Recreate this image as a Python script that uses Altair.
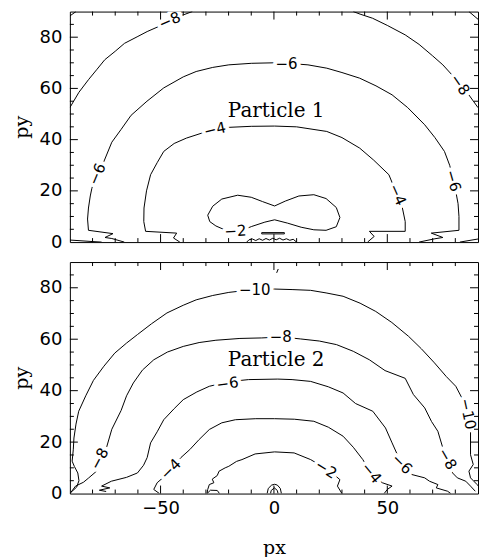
import altair as alt
import pandas as pd

# ---------------- axis / tick values ----------------
X_DOMAIN = [-90, 90]
Y_DOMAIN = [0, 90]
x_major = [-50, 0, 50]
x_minor = [-80, -70, -60, -40, -30, -20, -10, 10, 20, 30, 40, 60, 70, 80]
y_major = [20, 40, 60, 80]
y_minor = [5, 10, 15, 25, 30, 35, 45, 50, 55, 65, 70, 75, 85]
x_labels = [-50, 0, 50]
y_labels = [0, 20, 40, 60, 80]

# ---------------- Particle 1 contours (px, py) ----------------
p1_m8_left = [(-90, 52.5), (-86, 58.5), (-81.8, 63.4), (-78, 67.5), (-74.6, 71.2), (-70, 74.5),
              (-65.9, 77.6), (-60, 80.3), (-55.9, 82.2), (-50, 84.5), (-45.8, 86.5), (-40, 88.7), (-36, 90)]
p1_m8_right = [(35, 90), (38, 89), (43.5, 87.4), (50, 84.6), (57.9, 80.9), (64, 77.2), (70, 72.7),
               (74.5, 69.2), (78.5, 65.3), (81.6, 62), (85.3, 58.3), (90, 52.5)]
p1_m10_tl = [(-90, 88.3), (-87.3, 90)]
p1_m10_tr = [(86, 90), (90, 87)]
p1_edge_bl = [(-90, 0.8), (-80, 0.2), (-76, 0)]
p1_edge_br = [(82, 0), (90, 1.2)]
p1_m6 = [(-66, 0), (-71.5, 1.4), (-74.5, 1.8), (-71, 3.3), (-81.8, 4.6), (-82.2, 9), (-81.8, 13.3),
         (-81, 18), (-80.3, 21), (-78.2, 26.9), (-75.3, 30.8), (-71.5, 39), (-67.4, 44), (-63, 49.5),
         (-56, 55), (-48.6, 60.2), (-40, 64.5), (-34.3, 66.6), (-27, 68.2), (-19.9, 69.2), (-10, 69.8),
         (0, 70), (6, 69.8), (15, 69.2), (23.3, 67.9), (30, 66.2), (37.8, 64), (45, 61), (52.1, 57.5),
         (59, 52.5), (66.5, 45.8), (71, 40.8), (75.2, 35.4), (77.5, 30), (78.8, 25.6), (80.2, 19.8),
         (81.2, 15), (81.6, 10), (81.6, 4.6), (75, 4.0), (69.4, 3.5), (74.5, 1.8), (71, 1.3), (64, 0)]
p1_m4 = [(-41.5, 0), (-44.3, 1.6), (-42.9, 3.5), (-56.6, 4.2), (-57.4, 8), (-57.3, 13.3), (-56.2, 20),
         (-54.4, 26.3), (-51.5, 31), (-48.6, 35.4), (-44, 38.5), (-38.6, 40.6), (-32, 42.5), (-25.6, 43.9),
         (-19.9, 44.8), (-10, 45.2), (0.3, 45.3), (10, 45), (23.3, 43.2), (30, 40.8), (37.8, 36.7), (44, 32),
         (50.7, 26.3), (54.3, 18.5), (56.5, 14), (57.9, 8), (57.9, 4.2), (42.1, 4.2), (44.2, 2.2), (41.3, 0)]
p1_m2 = [(-29.2, 10.5), (-27, 14), (-23, 16.8), (-16, 18.3), (-10, 17.5), (-5, 15.8), (0.3, 14.1),
         (5, 16), (11, 18), (17.6, 18.5), (23, 17), (27.5, 13.5), (29.1, 9.6), (27.5, 6), (23, 4.6),
         (17.6, 4.8), (12, 5.8), (6, 7.4), (0.3, 8.7), (-4, 7.8), (-9.8, 6.1), (-13, 5), (-17, 4.2),
         (-22, 4.9), (-25.6, 6.3), (-28.3, 8), (-29.2, 10.5)]
p1_dash = [(-5.4, 3.7), (4.6, 3.7), (4.6, 3.2), (-5.4, 3.2), (-5.4, 3.7)]
p1_wiggle = [(-12, 0), (-11, 0.9), (-9.5, 1.2), (-8, 0.6), (-6.5, 1.3), (-5, 0.7), (-3.5, 1.4), (-2, 0.8),
             (-0.5, 1.5), (1, 0.9), (2.5, 1.5), (4, 0.8), (5.5, 1.3), (7, 0.7), (8.5, 1.1), (10, 0)]

# ---------------- Particle 2 contours (px, py) ----------------
p2_m10 = [(-89.5, 0.5), (-87, 2.5), (-86, 5), (-86.5, 8), (-88, 10.5), (-89, 12.6), (-88.5, 17),
          (-88.2, 21.6), (-87.3, 27), (-86.1, 32), (-83, 38), (-79.6, 44), (-75, 49.5), (-70.2, 54.6),
          (-65, 58.5), (-60.2, 61.8), (-54, 66), (-47.2, 70.2), (-40, 73.2), (-34.3, 75.3), (-27, 77),
          (-19.9, 78.2), (-10, 79.2), (0.3, 79.5), (8, 79.3), (16.2, 79), (23, 78), (30.5, 76.7), (38, 74),
          (44.9, 70.8), (52, 66.5), (59.4, 61.1), (65, 56.3), (70.8, 50.8), (76, 45.5), (80.2, 41.7),
          (83, 37), (85.3, 32.6), (86.5, 28), (86.7, 24.2), (86.7, 15.1), (87.9, 11.3), (86, 8.7),
          (86.7, 6.1), (89.6, 3.5), (90, 3)]
p2_m8 = [(-89.7, 0.3), (-87.5, 2.9), (-84, 4.4), (-81.8, 6), (-78.5, 8.5), (-76.7, 13.2), (-73.9, 17.7),
         (-71.5, 25), (-67.4, 32.3), (-65, 38), (-62, 43), (-58, 48), (-53, 52), (-47, 55), (-40, 57.2),
         (-33, 58.7), (-25.6, 59.6), (-15, 60.3), (-5.4, 60.5), (3.2, 60.9), (11.8, 60.1), (20, 59.3),
         (27.6, 57.9), (35, 55.3), (42.1, 52), (49, 47.8), (57.9, 44.8), (61.5, 38.5), (66.5, 33.3),
         (69.5, 28), (72.3, 24.2), (74.5, 17.7), (76.6, 13.2), (78.8, 8), (80.9, 6.1), (84.6, 4.8),
         (86.7, 2.9), (88.8, 0.9)]
p2_m6 = [(-74, 0.8), (-77, 1.3), (-72.4, 2.2), (-76, 2.9), (-71.7, 4.8), (-65, 6.3), (-60.2, 8),
         (-57.5, 11), (-55.9, 14), (-54.4, 19.7), (-51.5, 24), (-48.6, 28.7), (-44, 33), (-40, 36.5),
         (-34, 39.5), (-28.5, 41.7), (-19.9, 43.5), (-11.2, 44.3), (1.7, 44.5), (8, 44.3), (16.2, 43.6),
         (24, 41.5), (30.5, 39.1), (36, 35), (43.6, 32), (49.2, 25.5), (52.1, 19.7), (54.5, 15),
         (56.5, 11.3), (60.8, 7.4), (66.5, 6.1), (68.6, 4.8), (72.3, 3.5), (71.6, 2.2), (76.6, 0.9), (78, 0)]
p2_m4 = [(-50.5, 0), (-53, 1.6), (-51.5, 4.2), (-48.5, 6.5), (-45.8, 9.3), (-41, 14), (-37.1, 17.1),
         (-33, 21), (-28.5, 24.9), (-23, 27.5), (-17, 28.7), (-8, 29.1), (0.3, 29.1), (9, 28.9),
         (17.6, 28.1), (24, 25.8), (30.5, 22.3), (35, 18), (39.2, 13.2), (42.8, 8), (45, 6), (47.8, 4.2),
         (52.1, 2.9), (50, 1.6), (48.6, 0)]
p2_m2 = [(-29.5, 0), (-29.2, 1.6), (-28.5, 3.5), (-26.5, 4.2), (-27.2, 5.6), (-25, 7), (-24.2, 8.7),
         (-21.5, 10), (-19.9, 10.6), (-16.5, 12.5), (-14.1, 13.2), (-8.3, 15.4), (0.3, 16.2), (8.9, 15.8),
         (16.2, 13.2), (20, 11.2), (23.3, 9.3), (27, 7), (29.1, 5.4), (28, 2.9), (30, 0)]
p2_loop_l = [(-29.5, 0), (-28, 1.3), (-25, 1.2), (-24, 0)]
p2_arch_out = [(-3, 0), (-2.5, 2), (-1, 3.3), (0.3, 3.6), (1.5, 3.3), (2.8, 2), (3.3, 0)]
p2_arch_in = [(-1.5, 0), (-1.2, 1.2), (0.2, 2.2), (1.5, 1.2), (1.8, 0)]
p2_tick = [(1.9, 87.3), (1.2, 85.8)]

contour_sets = [
    (1, [p1_m8_left, p1_m8_right, p1_m10_tl, p1_m10_tr, p1_edge_bl, p1_edge_br,
         p1_m6, p1_m4, p1_m2, p1_dash, p1_wiggle]),
    (2, [p2_m10, p2_m8, p2_m6, p2_m4, p2_m2, p2_loop_l, p2_arch_out, p2_arch_in, p2_tick]),
]

# ---------------- contour labels ----------------
p1_lab_text = ["−8", "−8", "−6", "−6", "−6", "−4", "−4", "−2"]
p1_lab_x = [-46, 82, 5.5, -78, 79, -26, 54.5, -17]
p1_lab_y = [86.5, 61.5, 69.5, 26.5, 24, 44, 18.5, 4.3]
p1_lab_ang = [337, 55, 0, 293, 74, 347, 66, 356]

p2_lab_text = ["−10", "−10", "−8", "−8", "−8", "−6", "−6", "−4", "−4", "−2"]
p2_lab_x = [-8.5, 85.5, 3, -77, 76.5, -20.5, 56.5, -45.5, 43, 23]
p2_lab_y = [79, 31, 60.8, 13.5, 13.5, 42.8, 11.5, 9.5, 8, 9.5]
p2_lab_ang = [0, 78, 0, 298, 60, 352, 45, 315, 50, 32]

panel_titles = ["Particle 1", "Particle 2"]
title_x = [1, 1]
title_y = [51.3, 52]

# ---------------- build tables ----------------
rows = []
for pid, sets in contour_sets:
    for ci, pts in enumerate(sets):
        for k, (x, y) in enumerate(pts):
            rows.append({"panel": pid, "cid": f"{pid}_{ci}", "k": k, "px": x, "py": y})
lines_df = pd.DataFrame(rows)

lab_df = pd.concat([
    pd.DataFrame({"panel": 1, "px": p1_lab_x, "py": p1_lab_y, "t": p1_lab_text, "ang": p1_lab_ang}),
    pd.DataFrame({"panel": 2, "px": p2_lab_x, "py": p2_lab_y, "t": p2_lab_text, "ang": p2_lab_ang}),
])

W = 409
TICK_MAJ = 8
TICK_MIN = 4


def make_panel(pid, h, show_x):
    xs = alt.Scale(domain=X_DOMAIN, nice=False, zero=False)
    ys = alt.Scale(domain=Y_DOMAIN, nice=False, zero=False)
    if show_x:
        xaxis = alt.Axis(values=x_labels, title="px", labelPadding=6, titlePadding=21)
    else:
        xaxis = None
    yaxis = alt.Axis(values=y_labels, title="py", labelPadding=8, titlePadding=8)
    xenc = alt.X("px:Q", scale=xs, axis=xaxis)
    yenc = alt.Y("py:Q", scale=ys, axis=yaxis)

    lines = alt.Chart(lines_df[lines_df.panel == pid]).mark_line(
        color="black", strokeWidth=1, clip=True
    ).encode(x=xenc, y=yenc, detail="cid:N", order="k:Q")

    lab = lab_df[lab_df.panel == pid]
    halo = alt.Chart(lab).mark_text(
        font="DejaVu Sans", fontSize=15, fill="white", stroke="white", strokeWidth=8,
        strokeJoin="round", align="center", baseline="middle", clip=True
    ).encode(x=xenc, y=yenc, text="t:N", angle=alt.Angle("ang:Q", scale=None))
    txt = alt.Chart(lab).mark_text(
        font="DejaVu Sans", fontSize=15, color="black", align="center", baseline="middle", clip=True
    ).encode(x=xenc, y=yenc, text="t:N", angle=alt.Angle("ang:Q", scale=None))

    title = alt.Chart(pd.DataFrame({"px": [title_x[pid - 1]], "py": [title_y[pid - 1]],
                                    "t": [panel_titles[pid - 1]]})).mark_text(
        font="DejaVu Serif", fontSize=20, color="black", align="center", baseline="middle", clip=True
    ).encode(x=xenc, y=yenc, text="t:N")

    xmaj = pd.DataFrame({"px": x_major})
    xmin = pd.DataFrame({"px": x_minor})
    ymaj = pd.DataFrame({"py": y_major})
    ymin = pd.DataFrame({"py": y_minor})
    tk = dict(color="black", strokeWidth=1)
    ticks = [
        alt.Chart(xmaj).mark_rule(**tk).encode(x=xenc, y=alt.value(h), y2=alt.value(h - TICK_MAJ)),
        alt.Chart(xmaj).mark_rule(**tk).encode(x=xenc, y=alt.value(0), y2=alt.value(TICK_MAJ)),
        alt.Chart(xmin).mark_rule(**tk).encode(x=xenc, y=alt.value(h), y2=alt.value(h - TICK_MIN)),
        alt.Chart(xmin).mark_rule(**tk).encode(x=xenc, y=alt.value(0), y2=alt.value(TICK_MIN)),
        alt.Chart(ymaj).mark_rule(**tk).encode(y=yenc, x=alt.value(0), x2=alt.value(TICK_MAJ)),
        alt.Chart(ymaj).mark_rule(**tk).encode(y=yenc, x=alt.value(W), x2=alt.value(W - TICK_MAJ)),
        alt.Chart(ymin).mark_rule(**tk).encode(y=yenc, x=alt.value(0), x2=alt.value(TICK_MIN)),
        alt.Chart(ymin).mark_rule(**tk).encode(y=yenc, x=alt.value(W), x2=alt.value(W - TICK_MIN)),
    ]
    return alt.layer(lines, halo, txt, title, *ticks).properties(width=W, height=h)


top = make_panel(1, 231, False)
bottom = make_panel(2, 232, True)

chart = alt.vconcat(top, bottom, spacing=9).properties(
    padding={"left": 3, "top": 2, "right": 0, "bottom": 0}
).configure_view(stroke="black", strokeWidth=1).configure_axis(
    grid=False, domain=False, ticks=False, tickSize=0,
    labelFont="DejaVu Sans", labelFontSize=18, labelColor="black",
    titleFont="DejaVu Serif", titleFontSize=19, titleFontWeight="normal", titleColor="black"
)

chart.save("out.html", embed_options={"renderer": "svg", "actions": False})
